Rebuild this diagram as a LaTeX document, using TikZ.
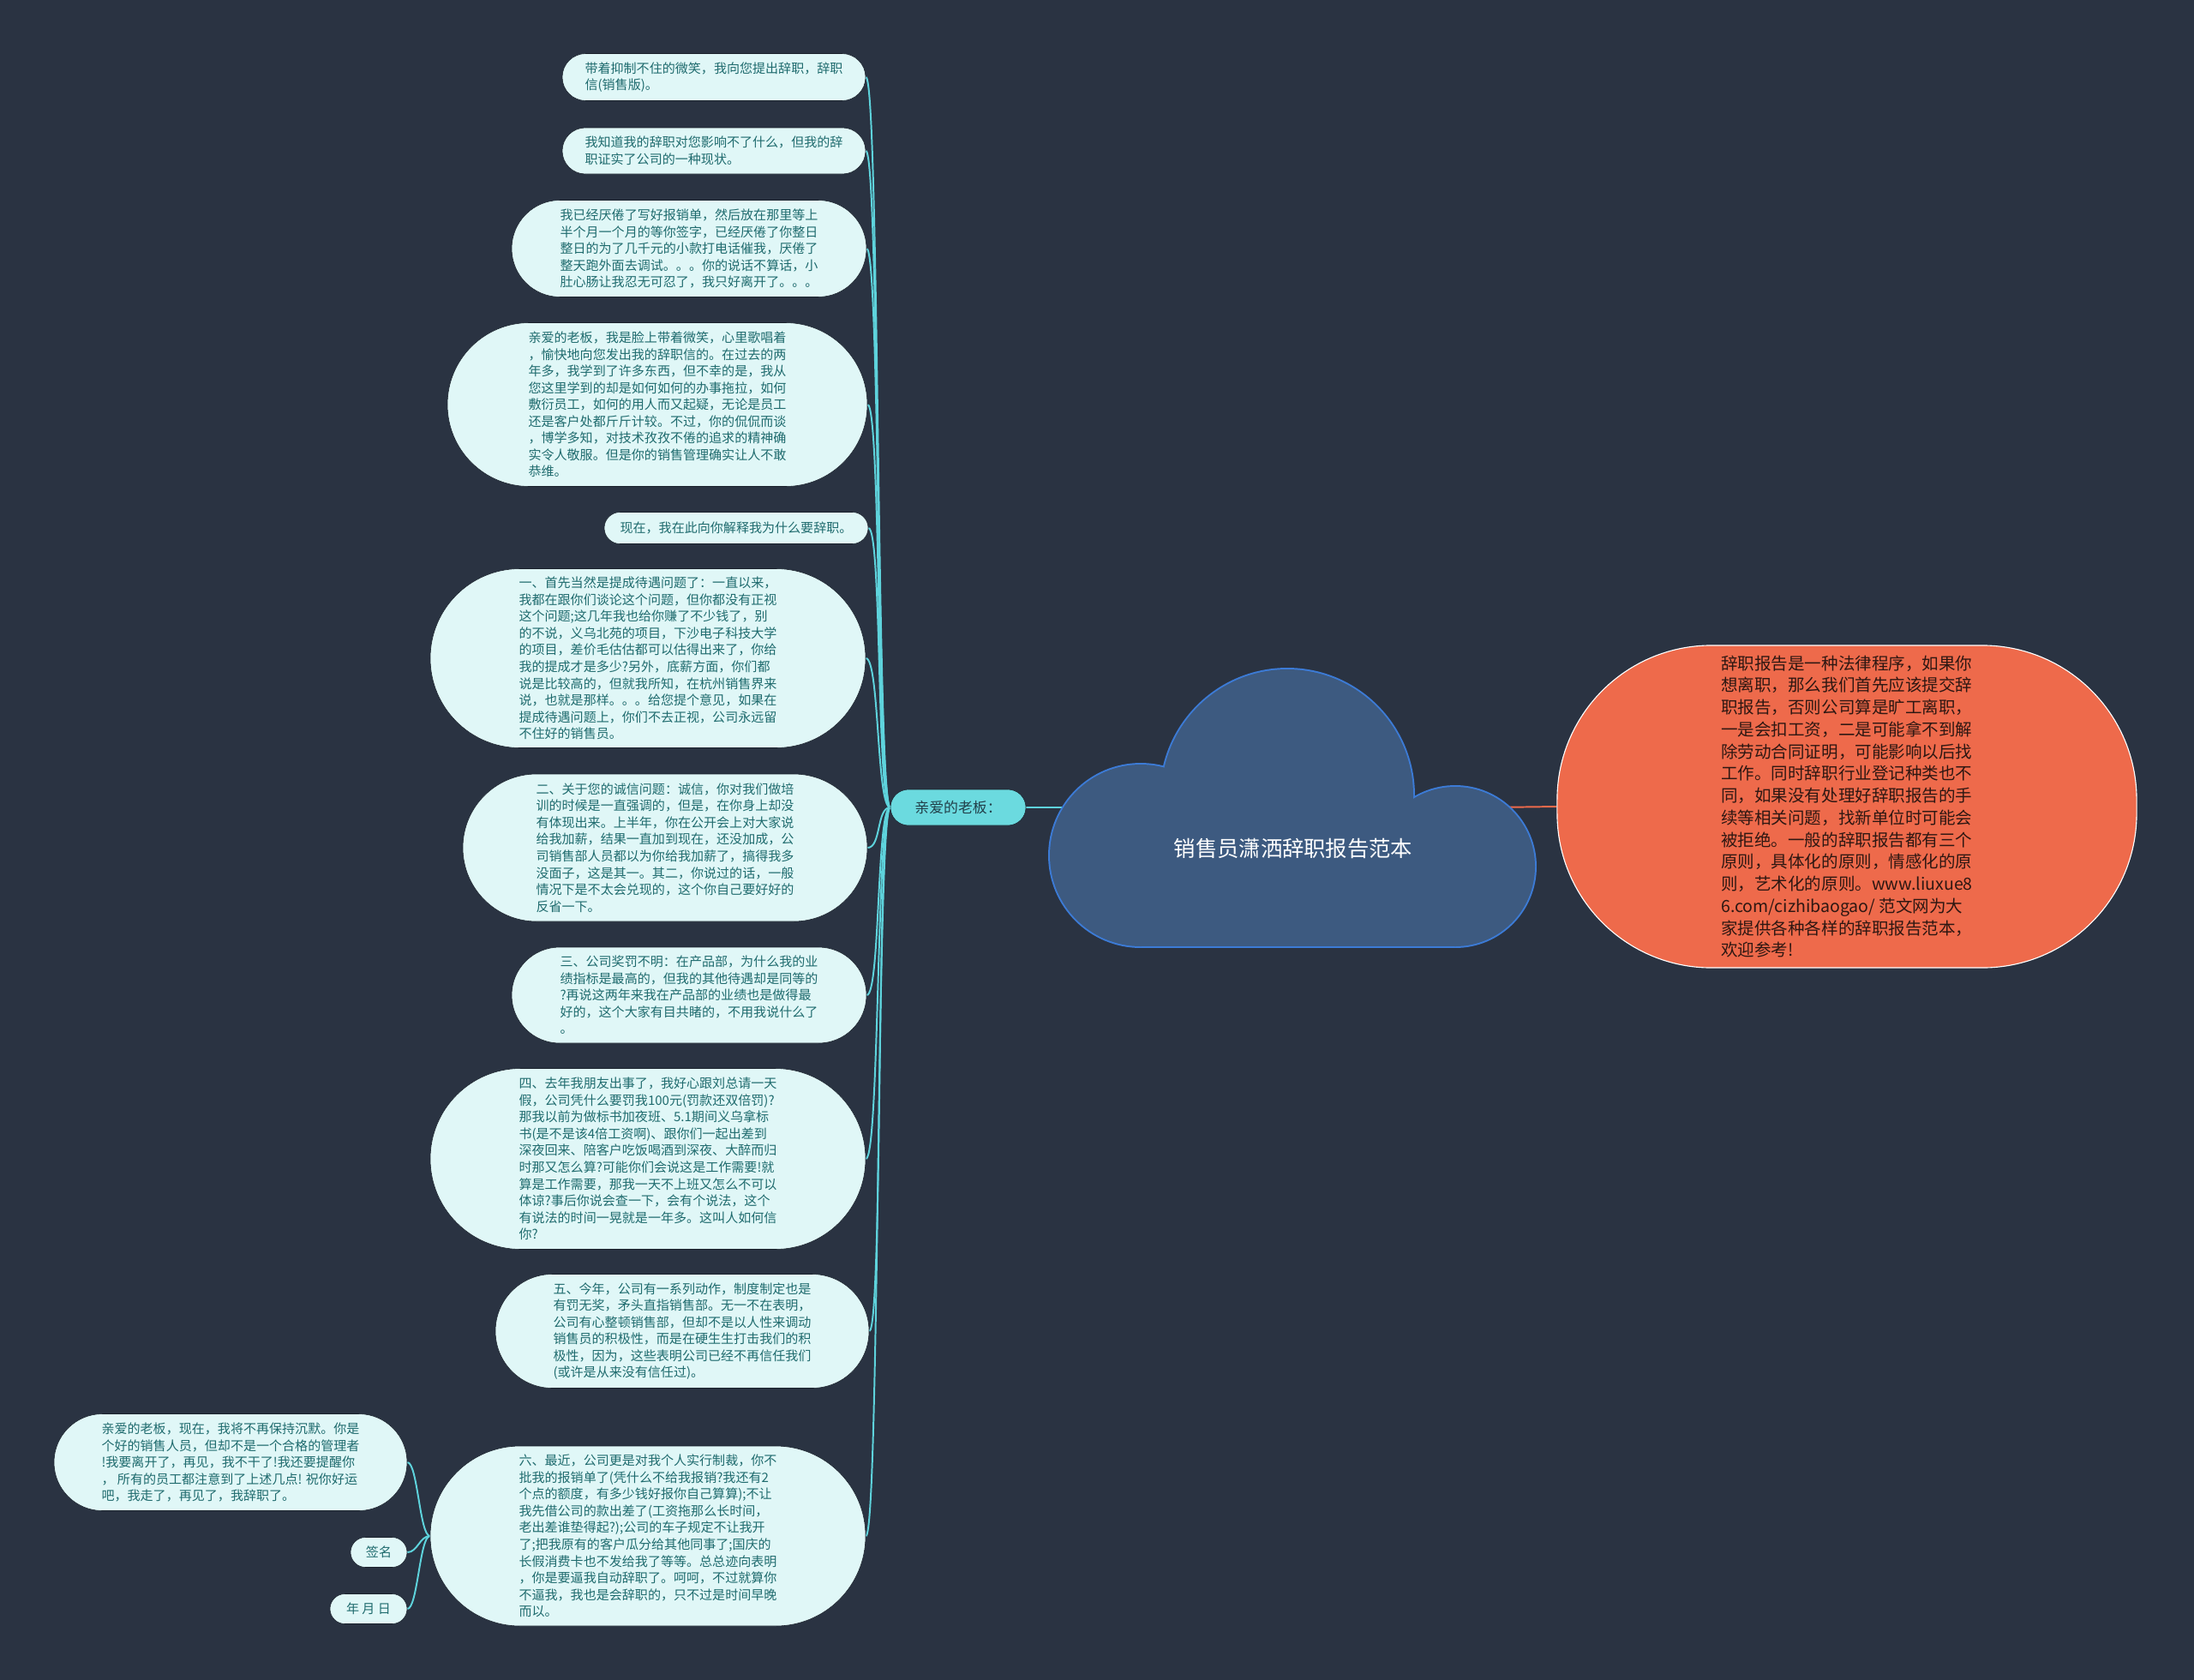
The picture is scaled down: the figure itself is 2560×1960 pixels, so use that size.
\documentclass[tikz,border=0pt]{standalone}
\usepackage{fontspec}
\setmainfont{Noto Sans CJK SC}
\usepackage{tikz}
\usetikzlibrary{backgrounds}
\definecolor{bgcolor}{HTML}{2A3342}
\definecolor{leaffill}{HTML}{E0F7F7}
\definecolor{leaftext}{HTML}{1F6B6E}
\definecolor{leafedge}{HTML}{1A212B}
\definecolor{linkcolor}{HTML}{5ED3DC}
\definecolor{labelfill}{HTML}{6BDADF}
\definecolor{labeltext}{HTML}{22404A}
\definecolor{cloudfill}{HTML}{3D5A80}
\definecolor{cloudline}{HTML}{3C7BD6}
\definecolor{notefill}{HTML}{EE6A4B}
\definecolor{notetext}{HTML}{2E1712}

\begin{document}
\begin{tikzpicture}[x=0.025cm, y=-0.025cm,
    leaf/.style 2 args={rectangle, rounded corners=#2*0.0125cm, draw=leafedge, fill=leaffill, text=leaftext, minimum width=#1*0.025cm, minimum height=#2*0.025cm, inner sep=0pt, align=left, font=\fontsize{10.7}{13.9}\selectfont},
    branch/.style={rectangle, rounded corners=0.525cm, draw=leafedge, fill=labelfill, text=labeltext, minimum width=3.95cm, minimum height=1.05cm, inner sep=0pt, font=\fontsize{12}{14}\selectfont},
    note/.style={rectangle, rounded corners=4.5cm, draw=white, thick, fill=notefill, text=notetext, minimum width=16.9cm, minimum height=9.4cm, inner sep=0pt, align=left, font=\fontsize{13.9}{18.3}\selectfont},
    link/.style={draw=linkcolor, line width=1.4pt},
    notelink/.style={draw=notefill, line width=1.4pt}
]
\useasboundingbox (0,0) rectangle (2560,1960);
\begin{scope}[on background layer]
\fill[bgcolor] (0,0) rectangle (2560,1960);
\end{scope}

% cloud
\draw[cloudline, line width=2.8pt] (1502,928) circle (147) (1331,998) circle (106) (1698,1011) circle (93) (1331,998) rectangle (1698,1104);
\fill[cloudfill] (1502,928) circle (147);
\fill[cloudfill] (1331,998) circle (106);
\fill[cloudfill] (1698,1011) circle (93);
\fill[cloudfill] (1331,998) rectangle (1698,1104);
\node[text=white, font=\fontsize{18}{20}\selectfont] (root) at (1509,990) {销售员潇洒辞职报告范本};
\coordinate (cloudW) at (1262,942);
\coordinate (cloudE) at (1740,942);

\node[note] (intro) at (2155,941) {辞职报告是一种法律程序，如果你\\想离职，那么我们首先应该提交辞\\职报告，否则公司算是旷工离职，\\一是会扣工资，二是可能拿不到解\\除劳动合同证明，可能影响以后找\\工作。同时辞职行业登记种类也不\\同，如果没有处理好辞职报告的手\\续等相关问题，找新单位时可能会\\被拒绝。一般的辞职报告都有三个\\原则，具体化的原则，情感化的原\\则，艺术化的原则。www.liuxue8\\6.com/cizhibaogao/ 范文网为大\\家提供各种各样的辞职报告范本，\\欢迎参考!};

\node[branch] (boss) at (1118,942) {亲爱的老板：};

% letter paragraphs
\node[leaf={354}{55}] (p1) at (833,90) {带着抑制不住的微笑，我向您提出辞职，辞职\\信(销售版)。};
\node[leaf={354}{54}] (p2) at (833,176) {我知道我的辞职对您影响不了什么，但我的辞\\职证实了公司的一种现状。};
\node[leaf={414}{113}] (p3) at (804,290) {我已经厌倦了写好报销单，然后放在那里等上\\半个月一个月的等你签字，已经厌倦了你整日\\整日的为了几千元的小款打电话催我，厌倦了\\整天跑外面去调试。。。你的说话不算话，小\\肚心肠让我忍无可忍了，我只好离开了。。。};
\node[leaf={490}{191}] (p4) at (767,472) {亲爱的老板，我是脸上带着微笑，心里歌唱着\\，愉快地向您发出我的辞职信的。在过去的两\\年多，我学到了许多东西，但不幸的是，我从\\您这里学到的却是如何如何的办事拖拉，如何\\敷衍员工，如何的用人而又起疑，无论是员工\\还是客户处都斤斤计较。不过，你的侃侃而谈\\，博学多知，对技术孜孜不倦的追求的精神确\\实令人敬服。但是你的销售管理确实让人不敢\\恭维。};
\node[leaf={308}{37}] (p5) at (859,616) {现在，我在此向你解释我为什么要辞职。};
\node[leaf={508}{209}] (p6) at (756,768) {一、首先当然是提成待遇问题了：一直以来，\\我都在跟你们谈论这个问题，但你都没有正视\\这个问题;这几年我也给你赚了不少钱了，别\\的不说，义乌北苑的项目，下沙电子科技大学\\的项目，差价毛估估都可以估得出来了，你给\\我的提成才是多少?另外，底薪方面，你们都\\说是比较高的，但就我所知，在杭州销售界来\\说，也就是那样。。。给您提个意见，如果在\\提成待遇问题上，你们不去正视，公司永远留\\不住好的销售员。};
\node[leaf={472}{172}] (p7) at (776,989) {二、关于您的诚信问题：诚信，你对我们做培\\训的时候是一直强调的，但是，在你身上却没\\有体现出来。上半年，你在公开会上对大家说\\给我加薪，结果一直加到现在，还没加成，公\\司销售部人员都以为你给我加薪了，搞得我多\\没面子，这是其一。其二，你说过的话，一般\\情况下是不太会兑现的，这个你自己要好好的\\反省一下。};
\node[leaf={414}{112}] (p8) at (804,1161) {三、公司奖罚不明：在产品部，为什么我的业\\绩指标是最高的，但我的其他待遇却是同等的\\?再说这两年来我在产品部的业绩也是做得最\\好的，这个大家有目共睹的，不用我说什么了\\。};
\node[leaf={508}{211}] (p9) at (756,1352) {四、去年我朋友出事了，我好心跟刘总请一天\\假，公司凭什么要罚我100元(罚款还双倍罚)?\\那我以前为做标书加夜班、5.1期间义乌拿标\\书(是不是该4倍工资啊)、跟你们一起出差到\\深夜回来、陪客户吃饭喝酒到深夜、大醉而归\\时那又怎么算?可能你们会说这是工作需要!就\\算是工作需要，那我一天不上班又怎么不可以\\体谅?事后你说会查一下，会有个说法，这个\\有说法的时间一晃就是一年多。这叫人如何信\\你?};
\node[leaf={436}{133}] (p10) at (796,1553) {五、今年，公司有一系列动作，制度制定也是\\有罚无奖，矛头直指销售部。无一不在表明，\\公司有心整顿销售部，但却不是以人性来调动\\销售员的积极性，而是在硬生生打击我们的积\\极性，因为，这些表明公司已经不再信任我们\\(或许是从来没有信任过)。};
\node[leaf={508}{210}] (p11) at (756,1792) {六、最近，公司更是对我个人实行制裁，你不\\批我的报销单了(凭什么不给我报销?我还有2\\个点的额度，有多少钱好报你自己算算);不让\\我先借公司的款出差了(工资拖那么长时间，\\老出差谁垫得起?);公司的车子规定不让我开\\了;把我原有的客户瓜分给其他同事了;国庆的\\长假消费卡也不发给我了等等。总总迹向表明\\，你是要逼我自动辞职了。呵呵，不过就算你\\不逼我，我也是会辞职的，只不过是时间早晚\\而以。};

% closing
\node[leaf={412}{113}] (bye) at (269,1706) {亲爱的老板，现在，我将不再保持沉默。你是\\个好的销售人员，但却不是一个合格的管理者\\!我要离开了，再见，我不干了!我还要提醒你\\， 所有的员工都注意到了上述几点! 祝你好运\\吧，我走了，再见了，我辞职了。};
\node[leaf={66}{35}] (sign) at (442,1811) {签名};
\node[leaf={90}{35}] (date) at (430,1877) {年 月 日};

\begin{scope}[on background layer]
\draw[link] (boss.east) -- (cloudW);
\draw[notelink] (cloudE) -- (intro.west);
\foreach \p in {p1,p2,p3,p4,p5,p6,p7,p8,p9,p10,p11}
  \draw[link] (boss.west) .. controls +(-16,0) and +(16,0) .. (\p.east);
\foreach \p in {bye,sign,date}
  \draw[link] (p11.west) .. controls +(-12,0) and +(12,0) .. (\p.east);
\end{scope}
\end{tikzpicture}
\end{document}
